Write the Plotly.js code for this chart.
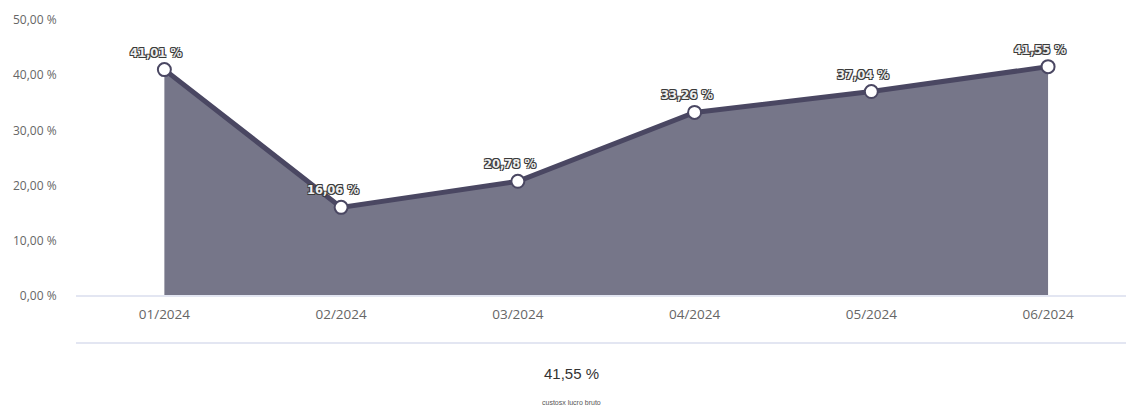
<!DOCTYPE html>
<html>
<head>
<meta charset="utf-8">
<script src="https://cdn.plot.ly/plotly-3.0.1.min.js"></script>
<style>
html,body{margin:0;padding:0;background:#fff;}
#chart{width:1126px;height:408px;}
</style>
</head>
<body>
<div id="chart"></div>
<script>
const categories = ["01/2024", "02/2024", "03/2024", "04/2024", "05/2024", "06/2024"];
const values = [41.01, 16.06, 20.78, 33.26, 37.04, 41.55];
const yTickValues = [0, 10, 20, 30, 40, 50];
const yTickLabels = ["0,00 %", "10,00 %", "20,00 %", "30,00 %", "40,00 %", "50,00 %"];
const summaryValue = "41,55 %";
const summaryLabel = "custosx lucro bruto";

function fmt(v){ return v.toFixed(2).replace('.', ',') + ' %'; }

const trace = {
  x: categories,
  y: values,
  type: 'scatter',
  mode: 'lines+markers',
  fill: 'tozeroy',
  fillcolor: '#767689',
  line: {color: '#4a4762', width: 5},
  marker: {size: 13, color: '#ffffff', line: {color: '#4a4762', width: 2}},
  cliponaxis: false,
  hoverinfo: 'skip'
};

const labelAnnotations = categories.map((c, i) => ({
  x: c, y: values[i], xref: 'x', yref: 'y',
  text: fmt(values[i]), showarrow: false,
  xshift: -8, yshift: 17,
  font: {family: 'DejaVu Sans', size: 11.5, color: '#eeeeee', weight: 'bold',
    shadow: '1px 1px 0 #3a3a3a, -1px -1px 0 #3a3a3a, 1px -1px 0 #3a3a3a, -1px 1px 0 #3a3a3a'}
}));

const layout = {
  width: 1126, height: 408,
  margin: {l: 75.6, r: 0, t: 20, b: 112},
  paper_bgcolor: '#ffffff', plot_bgcolor: '#ffffff',
  showlegend: false,
  xaxis: {
    type: 'category',
    range: [-0.5, 5.441],
    showgrid: false, zeroline: false,
    showline: false,
    ticks: 'outside', ticklen: 6, tickcolor: 'rgba(0,0,0,0)',
    tickfont: {family: 'Open Sans', size: 13.5, color: '#666666'},
    fixedrange: true
  },
  yaxis: {
    range: [0, 50],
    tickvals: yTickValues,
    ticktext: yTickLabels,
    showgrid: false, zeroline: false, showline: false,
    ticks: 'outside', ticklen: 16, tickcolor: 'rgba(0,0,0,0)',
    tickfont: {family: 'Open Sans', size: 12, color: '#666666'},
    fixedrange: true
  },
  shapes: [
    {type: 'line', xref: 'paper', yref: 'paper', x0: 0, x1: 1, y0: 0, y1: 0,
     line: {color: '#e3e6f2', width: 2}, layer: 'above'},
    {type: 'line', xref: 'paper', yref: 'paper', x0: 0, x1: 1, y0: -47/276, y1: -47/276,
     line: {color: '#e3e6f2', width: 2}}
  ],
  annotations: labelAnnotations.concat([
    {xref: 'paper', yref: 'paper', x: (571-75.6)/1050.4, y: -77/276, yanchor: 'middle', text: summaryValue,
     showarrow: false, font: {family: 'Liberation Sans', size: 15, color: '#333333'}},
    {xref: 'paper', yref: 'paper', x: (571-75.6)/1050.4, y: -106/276, yanchor: 'middle', text: summaryLabel,
     showarrow: false, font: {family: 'Liberation Sans', size: 7, color: '#555555'}}
  ])
};

Plotly.newPlot('chart', [trace], layout, {displayModeBar: false, staticPlot: true});
</script>
</body>
</html>
